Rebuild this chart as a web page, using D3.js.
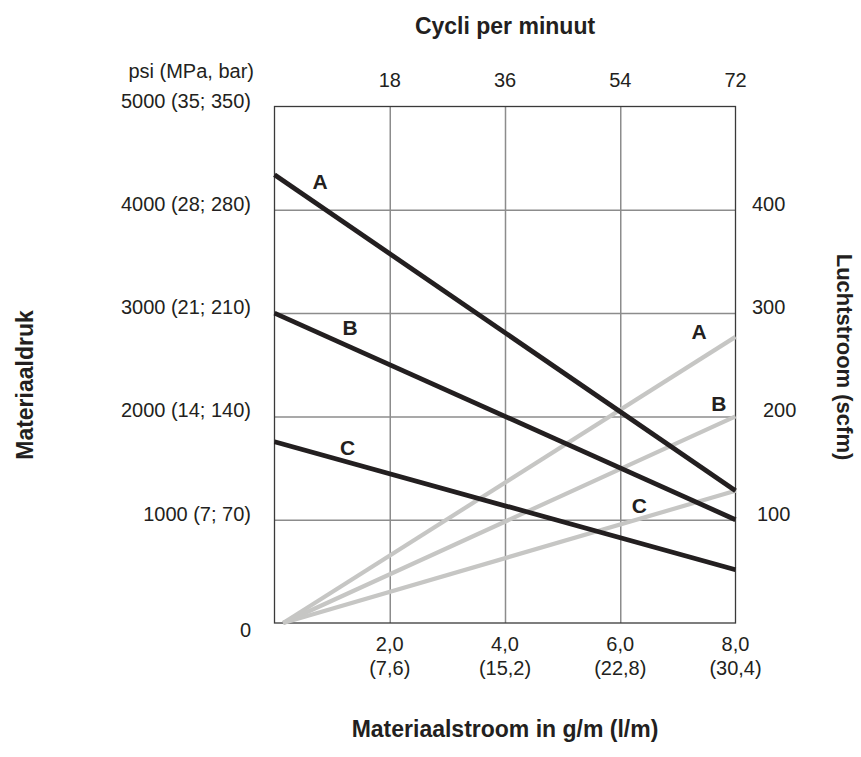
<!DOCTYPE html>
<html>
<head>
<meta charset="utf-8">
<script src="https://cdn.jsdelivr.net/npm/d3@7"></script>
<style>
  html, body { margin: 0; padding: 0; background: #fff; }
  svg { display: block; font-family: "Liberation Sans", Arial, Helvetica, sans-serif; }
</style>
</head>
<body>
<svg id="chart" width="861" height="757"></svg>
<script>
// ---------- data ----------
const flowTicks = [2, 4, 6, 8];                                   // g/m
const flowTickLabels = ["2,0", "4,0", "6,0", "8,0"];
const flowTickSubLabels = ["(7,6)", "(15,2)", "(22,8)", "(30,4)"];
const cycleTicks = [18, 36, 54, 72];                               // cycles per minute
const psiTicks = [0, 1000, 2000, 3000, 4000, 5000];
const psiTickLabels = ["0", "1000 (7; 70)", "2000 (14; 140)", "3000 (21; 210)", "4000 (28; 280)", "5000 (35; 350)"];
const scfmTicks = [100, 200, 300, 400];

const pressureSeries = ["A", "B", "C"];
const pressureFlow = [[0, 8], [0, 8], [0, 8]];
const pressurePsi = [[4340, 1280], [3000, 1000], [1755, 515]];

const airSeries = ["A", "B", "C"];
const airFlow = [[0.15, 8], [0.15, 8], [0.15, 8]];
const airScfm = [[0, 277], [0, 200], [0, 128]];

// label anchor points in data units (flow, psi-equivalent)
const pressureLabelAt = [[0.79, 4270], [1.31, 2860], [1.27, 1700]];
const airLabelAt = [[7.37, 2820], [7.71, 2125], [6.33, 1140]];

// ---------- layout ----------
(function () {
const svg = d3.select("#chart");
const pL = 274.5, pR = 735.5, pT = 106.5, pB = 623;
const ink = "#231f20";
const gridColor = "#8c8c8c";

const x = d3.scaleLinear().domain([0, 8]).range([pL, pR]);
const xCycles = d3.scaleLinear().domain([0, 72]).range([pL, pR]);
const y = d3.scaleLinear().domain([0, 5000]).range([pB, pT]);
const yAir = d3.scaleLinear().domain([0, 500]).range([pB, pT]);

// grid via axes
const gx = svg.append("g").attr("transform", `translate(0,${pB})`)
  .call(d3.axisBottom(x).tickValues(flowTicks.slice(0, 3)).tickSize(-(pB - pT)).tickFormat(""));
gx.select(".domain").remove();
gx.selectAll(".tick line").attr("stroke", gridColor).attr("stroke-width", 1.5);

const gy = svg.append("g").attr("transform", `translate(${pL},0)`)
  .call(d3.axisLeft(y).tickValues(psiTicks.slice(1, 5)).tickSize(-(pR - pL)).tickFormat(""));
gy.select(".domain").remove();
gy.selectAll(".tick line").attr("stroke", gridColor).attr("stroke-width", 1.5);

// frame
svg.append("rect").attr("x", pL).attr("y", pT)
  .attr("width", pR - pL).attr("height", pB - pT)
  .attr("fill", "none").attr("stroke", "#3a3a3a").attr("stroke-width", 1.3);

// lines
const line = d3.line();
airSeries.forEach((s, i) => {
  svg.append("path")
    .attr("d", line(airFlow[i].map((f, j) => [x(f), yAir(airScfm[i][j])])))
    .attr("fill", "none").attr("stroke", "#c6c6c4").attr("stroke-width", 4.2);
});
pressureSeries.forEach((s, i) => {
  svg.append("path")
    .attr("d", line(pressureFlow[i].map((f, j) => [x(f), y(pressurePsi[i][j])])))
    .attr("fill", "none").attr("stroke", ink).attr("stroke-width", 4.8);
});

// series labels
const labelStyle = sel => sel.attr("text-anchor", "middle").attr("dominant-baseline", "central")
  .attr("font-weight", "bold").attr("font-size", 21).attr("fill", ink);
pressureSeries.forEach((s, i) => {
  svg.append("text").attr("x", x(pressureLabelAt[i][0])).attr("y", y(pressureLabelAt[i][1])).text(s).call(labelStyle);
});
airSeries.forEach((s, i) => {
  svg.append("text").attr("x", x(airLabelAt[i][0])).attr("y", y(airLabelAt[i][1])).text(s).call(labelStyle);
});

// tick labels
const tickFont = 20;
psiTicks.forEach((v, i) => {
  svg.append("text").attr("x", 251).attr("y", y(v) + (v === 0 ? 14 : 1))
    .attr("text-anchor", "end").attr("font-size", tickFont).attr("fill", ink)
    .text(psiTickLabels[i]);
});
svg.append("text").attr("x", 254).attr("y", 78).attr("text-anchor", "end")
  .attr("font-size", tickFont).attr("fill", ink).text("psi (MPa, bar)");

const rightX = {100: 757, 200: 763, 300: 752, 400: 752};
scfmTicks.forEach(v => {
  svg.append("text").attr("x", rightX[v]).attr("y", yAir(v) + 1)
    .attr("font-size", tickFont).attr("fill", ink).text(v);
});

cycleTicks.forEach(v => {
  svg.append("text").attr("x", xCycles(v)).attr("y", 87).attr("text-anchor", "middle")
    .attr("font-size", tickFont).attr("fill", ink).text(v);
});

flowTicks.forEach((v, i) => {
  svg.append("text").attr("x", x(v)).attr("y", 651).attr("text-anchor", "middle")
    .attr("font-size", tickFont).attr("fill", ink).text(flowTickLabels[i]);
  svg.append("text").attr("x", x(v)).attr("y", 675).attr("text-anchor", "middle")
    .attr("font-size", tickFont).attr("fill", ink).text(flowTickSubLabels[i]);
});

// titles
const cx = (pL + pR) / 2;
svg.append("text").attr("x", cx).attr("y", 34).attr("text-anchor", "middle")
  .attr("font-weight", "bold").attr("font-size", 23).attr("fill", ink).text("Cycli per minuut");
svg.append("text").attr("x", cx).attr("y", 737).attr("text-anchor", "middle")
  .attr("font-weight", "bold").attr("font-size", 23).attr("fill", ink).text("Materiaalstroom in g/m (l/m)");
svg.append("text").attr("transform", "translate(25,385) rotate(-90)")
  .attr("text-anchor", "middle").attr("dominant-baseline", "central")
  .attr("font-weight", "bold").attr("font-size", 23).attr("fill", ink).text("Materiaaldruk");
svg.append("text").attr("transform", "translate(844,357) rotate(90)")
  .attr("text-anchor", "middle").attr("dominant-baseline", "central")
  .attr("font-weight", "bold").attr("font-size", 22).attr("fill", ink).text("Luchtstroom (scfm)");
})();
</script>
</body>
</html>
